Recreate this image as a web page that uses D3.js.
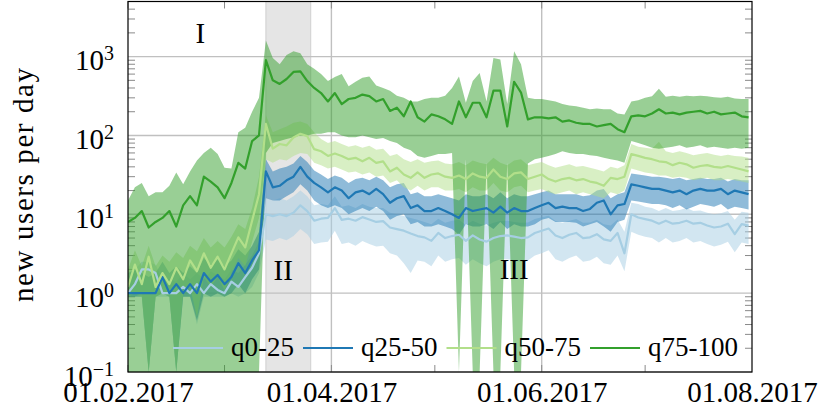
<!DOCTYPE html>
<html>
<head>
<meta charset="utf-8">
<script src="https://cdn.jsdelivr.net/npm/d3@7"></script>
<style>
  body { margin: 0; background: #fff; }
  text { font-family: "Liberation Serif", "Times New Roman", serif; fill: #000; }
</style>
</head>
<body>
<script>
// one value every 2 days, starting 01.02.2017
var startDay = "2017-02-01";
var stepDays = 2;

var seriesNames = ["q0-25", "q25-50", "q50-75", "q75-100"];
var seriesColors = ["#a6cee3", "#1f78b4", "#b2df8a", "#33a02c"];

// q0-25
var q0to25Mid = [1, 1.3, 2.0, 2.0, 1.8, 1, 1, 1, 1.2, 1.0,
  1.3, 1.0, 1.3, 1.1, 1.0, 1.4, 1.2, 1.6, 2.1, 3.2,
  10, 9.5, 10, 9.5, 10.5, 13, 11, 8.3, 8.8, 9,
  12, 8.5, 8.8, 8.3, 9.2, 8.6, 8.0, 8.2, 6.8, 6.5,
  6.2, 5.7, 5.3, 5.1, 4.6, 5.8, 5.0, 5.3, 5.5, 4.6,
  5.4, 4.8, 4.5, 5.0, 5.3, 5.4, 5.2, 5.0, 5.1, 5.8,
  6.2, 6.6, 5.4, 5.0, 5.5, 5.8, 5.0, 5.1, 5.6, 4.8,
  4.6, 5.8, 3.2, 10, 9.1, 8.7, 8.3, 7.6, 8.3, 7.6,
  7.8, 8.3, 7.6, 7.8, 7.2, 6.8, 7.0, 7.6, 5.6, 7.5,
  7.2];
var q0to25High = [1.5, 2.0, 2.5, 2.5, 2.3, 1.5, 1.5, 1.4, 1.8, 1.5,
  1.8, 1.5, 1.9, 1.7, 1.5, 2.0, 1.8, 2.3, 3.0, 4.5,
  16, 15, 16, 15, 17, 20, 17, 13, 13.5, 13,
  17, 12.5, 13, 12, 13.5, 12.5, 12, 12, 10.5, 10,
  9.5, 9, 8.5, 8, 7.5, 8.8, 7.8, 8.3, 8.5, 7.3,
  8.3, 7.6, 7.2, 7.8, 8.2, 8.3, 8.0, 7.8, 7.9, 8.7,
  9.2, 9.6, 8.2, 7.8, 8.3, 8.7, 7.8, 7.9, 8.5, 7.5,
  7.2, 8.6, 6, 14, 13.5, 12.5, 12, 11, 12, 11,
  11.3, 12, 11, 11.2, 10.5, 10, 10.3, 11, 8.5, 10.8,
  10.5];
var q0to25Low = [0.9, 0.9, 1.0, 0, 0.9, 0.9, 0.9, 0, 0.9, 0.9,
  0.4, 0.9, 0.9, 0.9, 0.9, 1.0, 0.9, 1.0, 1.2, 1.8,
  4.8, 4.6, 5.0, 4.7, 5.3, 6.5, 5.6, 4.2, 4.4, 4.5,
  6.2, 4.2, 4.4, 4.0, 4.6, 4.2, 3.9, 4.0, 3.2, 3.0,
  2.4, 1.8, 2.6, 2.5, 2.2, 3.0, 2.5, 2.7, 2.8, 2.3,
  2.7, 2.4, 2.2, 2.5, 2.7, 2.7, 2.6, 2.5, 2.6, 3.0,
  3.2, 3.5, 2.7, 2.5, 2.8, 3.0, 2.5, 2.6, 2.9, 2.4,
  2.3, 3.0, 1.9, 6.0, 5.5, 5.2, 5.0, 4.4, 5.0, 4.4,
  4.6, 5.0, 4.4, 4.6, 4.2, 3.9, 4.1, 4.5, 3.3, 4.4,
  4.2];

// q25-50
var q25to50Mid = [1, 1, 1, 1, 1, 1.6, 1, 1.3, 1, 1.3,
  1.0, 1.8, 1.4, 1.7, 1.3, 1.6, 2.4, 1.8, 2.6, 3.5,
  35, 22, 23, 27, 30, 40, 30, 25, 22, 19,
  22, 20, 16, 19, 20, 18, 21, 18, 14, 16,
  17, 12, 13, 11, 11, 12, 11, 10, 9, 12,
  11, 11.5, 12, 10.5, 12.5, 10.5, 12, 11, 11, 12,
  13, 14, 12, 12.5, 12, 12, 11, 11.7, 14, 15,
  10, 13, 13.5, 24, 23, 22, 21, 21, 20, 19,
  20, 18, 20, 21, 20, 20, 21, 18, 20, 19,
  18];
var q25to50High = [1.8, 2.0, 1.8, 1.6, 1.8, 2.5, 1.8, 2.2, 1.8, 2.2,
  1.8, 2.8, 2.3, 2.7, 2.2, 2.6, 3.6, 3.0, 4.0, 6,
  50, 35, 38, 40, 44, 55, 46, 36, 32, 28,
  31, 29, 25, 28, 29, 27, 30, 27, 22, 24,
  25, 18, 19, 17, 17, 18, 17, 16, 15, 18,
  17, 17, 18, 16, 19, 16, 18, 17, 17, 18,
  19, 20, 18, 18, 18, 18, 17, 17.5, 20, 21,
  16, 18, 19, 33, 32, 31, 30, 30, 29, 28,
  29, 27, 28, 29, 28, 28, 29, 26, 28, 27,
  27];
var q25to50Low = [0.9, 0.9, 0.9, 0, 0.9, 1.0, 0.9, 0, 0.9, 0.9,
  0.45, 1.0, 0.9, 1.0, 0.9, 1.0, 1.3, 1.0, 1.5, 2.0,
  16, 15, 15, 17, 19, 24, 20, 15, 13, 12,
  13, 12, 10, 11, 12, 11, 12.5, 11, 8.5, 9.5,
  10, 7.5, 8, 7, 7, 7.5, 7, 6.5, 5.5, 7.5,
  7, 7, 7.5, 6.5, 8, 6.5, 7.5, 7, 7, 7.5,
  8.5, 9, 8, 8, 8, 7.8, 7, 7.5, 8, 7,
  6, 8, 8.5, 15, 14.5, 14, 13.5, 13.5, 13, 12,
  13, 11.5, 12.5, 13.5, 13, 12.5, 13.5, 11.5, 12.5, 12,
  11.5];

// q50-75
var q50to75Mid = [1.2, 2.3, 1.3, 2.9, 1.2, 1.8, 1.3, 2.1, 1.5, 2.6,
  1.9, 3.2, 2.1, 2.9, 2.0, 3.2, 5.1, 3.8, 8.3, 18,
  140, 68, 78, 75, 94, 105, 98, 67, 63, 55,
  59, 55, 50, 52, 47, 52, 45, 47, 35, 39,
  32, 29, 34, 29, 32, 33, 30, 29, 31, 28,
  33, 30, 29, 37, 30, 28, 33, 34, 28, 30,
  32, 28, 26, 28, 29, 27, 28, 26, 25, 23,
  29, 28, 30, 58, 55, 52, 50, 47, 46, 42,
  45, 43, 39, 41, 42, 40, 39, 41, 39, 37,
  35];
var q50to75High = [2.0, 3.5, 2.2, 4.0, 2.2, 3.0, 2.5, 3.3, 2.8, 4.0,
  3.4, 5.0, 3.8, 4.6, 3.8, 5.2, 7.5, 6.5, 12, 30,
  180, 110, 120, 130, 145, 150, 140, 110, 90, 80,
  85, 78, 72, 75, 70, 74, 66, 68, 55, 58,
  50, 46, 50, 45, 47, 48, 44, 43, 46, 42,
  48, 45, 43, 52, 45, 42, 48, 50, 42, 44,
  46, 42, 39, 41, 43, 40, 41, 39, 37, 35,
  40, 38, 42, 78, 72, 70, 68, 83, 63, 60,
  63, 60, 56, 58, 60, 57, 55, 57, 55, 54,
  52];
var q50to75Low = [0.9, 1.0, 0.9, 0, 0.9, 1.0, 0.9, 0, 1.0, 1.2,
  0.5, 1.6, 1.2, 1.6, 1.1, 1.8, 2.8, 2.2, 4.5, 9,
  50, 45, 50, 48, 55, 60, 58, 45, 42, 38,
  40, 37, 34, 35, 32, 34, 30, 31, 25, 27,
  22, 20, 23, 20, 22, 22, 20, 20, 21, 19,
  22, 20, 20, 25, 20, 19, 22, 23, 19, 20,
  21, 19, 18, 19, 20, 18, 19, 18, 17, 16,
  19, 18, 20, 38, 36, 34, 33, 31, 31, 29,
  30, 29, 27, 28, 29, 27, 27, 28, 27, 26,
  25];

// q75-100
var q75to100Mid = [8, 9, 11, 6.8, 8, 9, 11, 7, 13, 17,
  13, 30, 26, 22, 16, 25, 45, 38, 85, 100,
  900, 500, 450, 520, 640, 650, 490, 400, 345, 270,
  345, 250, 290, 300, 330, 315, 270, 290, 205, 225,
  175, 270, 170, 150, 185, 175, 160, 140, 270, 170,
  260, 260, 170, 370, 370, 130, 480, 350, 160, 170,
  170, 165, 170, 150, 155, 145, 140, 140, 130, 135,
  140, 120, 110, 175, 180, 175, 190, 215, 190, 195,
  185, 195, 200, 205, 190, 200, 185, 190, 195, 175,
  170];
var q75to100High = [15, 22, 25, 17, 19, 19, 23, 34, 24, 35,
  48, 60, 70, 58, 39, 38, 110, 125, 200, 300,
  1600, 960, 800, 1050, 1170, 1100, 800, 700, 600, 490,
  550, 600, 420, 480, 540, 560, 430, 400, 370, 320,
  300, 270, 270, 290, 300, 300, 320, 400, 560, 260,
  490, 620, 270, 960, 920, 250, 1170, 800, 300, 290,
  290, 280, 270, 250, 240, 235, 225, 215, 220, 215,
  215, 190, 185, 270, 280, 300, 315, 390, 310, 320,
  310, 320, 315, 320, 315, 305, 300, 310, 295, 290,
  290];
var q75to100Low = [0, 0, 0, 0, 0, 0, 0, 0, 0, 0,
  0, 0, 0, 0, 0, 0, 0, 0, 0, 0,
  60, 80, 85, 90, 95, 100, 100, 105, 105, 110,
  110, 100, 95, 95, 100, 95, 90, 93, 85, 80,
  70, 65, 55, 52, 55, 58, 58, 60, 0, 50,
  0, 0, 45, 0, 0, 45, 0, 0, 44, 50,
  52, 55, 58, 63, 60, 58, 58, 56, 55, 52,
  50, 48, 45, 85, 80, 75, 70, 68, 70, 72,
  75, 70, 72, 75, 70, 72, 70, 68, 70, 68,
  70];

var xTickLabels = ["01.02.2017", "01.04.2017", "01.06.2017", "01.08.2017"];
var yTickValues = [0.1, 1, 10, 100, 1000];
var yTickExponents = ["\u22121", "0", "1", "2", "3"];

// highlighted period II and the roman labels
var shadedFrom = "2017-03-13";
var shadedTo = "2017-03-26";
var phaseLabels = ["I", "II", "III"];
var phaseDates = ["2017-02-22", "2017-03-18", "2017-05-24"];
var phaseValues = [1500, 1.45, 1.5];

var W = 829, H = 413;
var pLeft = 128, pRight = 752, pTop = 1.5, pBottom = 372;

var svg = d3.select("body")
            .append("svg")
            .attr("width", W)
            .attr("height", H);

var parseIso = d3.timeParse("%Y-%m-%d");
var parseTick = d3.timeParse("%d.%m.%Y");
var start = parseIso(startDay);

var x = d3.scaleTime()
          .domain([parseTick(xTickLabels[0]), parseTick(xTickLabels[xTickLabels.length - 1])])
          .range([pLeft, pRight]);

var y = d3.scaleLog()
          .domain([0.1, 5000])
          .range([pBottom, pTop])
          .clamp(true);

//build the series table from the arrays
var mids = [q0to25Mid, q25to50Mid, q50to75Mid, q75to100Mid];
var lows = [q0to25Low, q25to50Low, q50to75Low, q75to100Low];
var highs = [q0to25High, q25to50High, q50to75High, q75to100High];

var series = seriesNames.map(function(name, k) {
    return {
        name: name,
        color: seriesColors[k],
        values: mids[k].map(function(v, i) {
            return { date: d3.timeDay.offset(start, i * stepDays), mid: v, lo: lows[k][i], hi: highs[k][i] };
        })
    };
});

svg.append("clipPath")
   .attr("id", "plotclip")
   .append("rect")
   .attr("x", pLeft).attr("y", pTop)
   .attr("width", pRight - pLeft).attr("height", pBottom - pTop);

//shaded period
svg.append("rect")
   .attr("x", x(parseIso(shadedFrom)))
   .attr("y", pTop)
   .attr("width", x(parseIso(shadedTo)) - x(parseIso(shadedFrom)))
   .attr("height", pBottom - pTop)
   .attr("fill", "#e5e5e5")
   .attr("stroke", "#d0d0d0")
   .attr("stroke-width", 1);

//grid lines
var grid = svg.append("g").attr("stroke", "#c0c0c0").attr("stroke-width", 1.4);
grid.selectAll("line.h")
    .data(yTickValues)
    .enter()
    .append("line")
    .attr("x1", pLeft).attr("x2", pRight)
    .attr("y1", function(d) { return y(d); })
    .attr("y2", function(d) { return y(d); });
grid.selectAll("line.v")
    .data(xTickLabels.slice(1, -1))
    .enter()
    .append("line")
    .attr("y1", pTop).attr("y2", pBottom)
    .attr("x1", function(d) { return x(parseTick(d)); })
    .attr("x2", function(d) { return x(parseTick(d)); });

//minor ticks
var minorY = [];
yTickValues.forEach(function(d) {
    for (var m = 2; m <= 9; m++) {
        if (d * m <= 5000) minorY.push(d * m);
    }
});
var minorX = d3.timeMonth.range(x.domain()[0], x.domain()[1]);
var ticks = svg.append("g").attr("stroke", "#8a8a8a").attr("stroke-width", 1);
[pLeft, pRight].forEach(function(edge) {
    var dir = edge === pLeft ? 1 : -1;
    ticks.selectAll(null)
         .data(minorY)
         .enter()
         .append("line")
         .attr("x1", edge).attr("x2", edge + dir * 7)
         .attr("y1", function(d) { return y(d); })
         .attr("y2", function(d) { return y(d); });
});
[pTop, pBottom].forEach(function(edge) {
    var dir = edge === pTop ? 1 : -1;
    ticks.selectAll(null)
         .data(minorX)
         .enter()
         .append("line")
         .attr("y1", edge).attr("y2", edge + dir * 7)
         .attr("x1", function(d) { return x(d); })
         .attr("x2", function(d) { return x(d); });
});

//bands then lines
var plot = svg.append("g").attr("clip-path", "url(#plotclip)");

var area = d3.area()
             .x(function(d) { return x(d.date); })
             .y0(function(d) { return y(d.lo); })
             .y1(function(d) { return y(d.hi); });

var line = d3.line()
             .x(function(d) { return x(d.date); })
             .y(function(d) { return y(d.mid); });

plot.selectAll("path.band")
    .data(series)
    .enter()
    .append("path")
    .attr("class", "band")
    .attr("d", function(d) { return area(d.values); })
    .attr("fill", function(d) { return d.color; })
    .attr("fill-opacity", 0.5);

plot.selectAll("path.line")
    .data(series)
    .enter()
    .append("path")
    .attr("class", "line")
    .attr("d", function(d) { return line(d.values); })
    .attr("fill", "none")
    .attr("stroke", function(d) { return d.color; })
    .attr("stroke-width", 2.2)
    .attr("stroke-linejoin", "round");

//frame
svg.append("rect")
   .attr("x", pLeft).attr("y", pTop)
   .attr("width", pRight - pLeft).attr("height", pBottom - pTop)
   .attr("fill", "none")
   .attr("stroke", "#000")
   .attr("stroke-width", 1.2);

//x axis labels
var xAxis = d3.axisBottom(x)
              .tickValues(xTickLabels.map(parseTick))
              .tickFormat(d3.timeFormat("%d.%m.%Y"))
              .tickSize(0);
var gx = svg.append("g")
            .attr("transform", "translate(0," + pBottom + ")")
            .call(xAxis);
gx.select(".domain").remove();
gx.selectAll("text")
  .attr("y", 30)
  .attr("dy", 0)
  .style("font-family", "Liberation Serif")
  .style("font-size", "29px")
  .attr("fill", "#000");

//y axis labels with superscripts
var yAxis = d3.axisLeft(y)
              .tickValues(yTickValues)
              .tickFormat("")
              .tickSize(0);
var gy = svg.append("g")
            .attr("transform", "translate(" + pLeft + ",0)")
            .call(yAxis);
gy.select(".domain").remove();
gy.selectAll(".tick text").remove();
gy.selectAll(".tick")
  .append("text")
  .attr("x", -14)
  .attr("y", 13)
  .attr("text-anchor", "end")
  .style("font-size", "29px")
  .each(function(d, i) {
      var t = d3.select(this);
      t.append("tspan").text("10");
      t.append("tspan")
       .attr("dy", -10)
       .style("font-size", "20px")
       .text(yTickExponents[i]);
  });

//y axis title
svg.append("text")
   .attr("transform", "translate(33,185) rotate(-90)")
   .attr("text-anchor", "middle")
   .attr("textLength", 234)
   .attr("lengthAdjust", "spacing")
   .style("font-size", "29px")
   .text("new users per day");

//phase labels
svg.selectAll("text.phase")
   .data(phaseLabels)
   .enter()
   .append("text")
   .attr("class", "phase")
   .attr("x", function(d, i) { return x(parseIso(phaseDates[i])); })
   .attr("y", function(d, i) { return y(phaseValues[i]); })
   .attr("text-anchor", "middle")
   .style("font-size", "29px")
   .text(function(d) { return d; });

//legend
var legend = svg.append("g");
var lx = 173, ly = 348;
series.forEach(function(s) {
    legend.append("line")
          .attr("x1", lx).attr("x2", lx + 50)
          .attr("y1", ly).attr("y2", ly)
          .attr("stroke", s.color)
          .attr("stroke-width", 2.2);
    var t = legend.append("text")
                  .attr("x", lx + 58)
                  .attr("y", ly + 8)
                  .style("font-size", "27px")
                  .text(s.name);
    lx = lx + 58 + t.node().getComputedTextLength() + 9;
});
</script>
</body>
</html>
